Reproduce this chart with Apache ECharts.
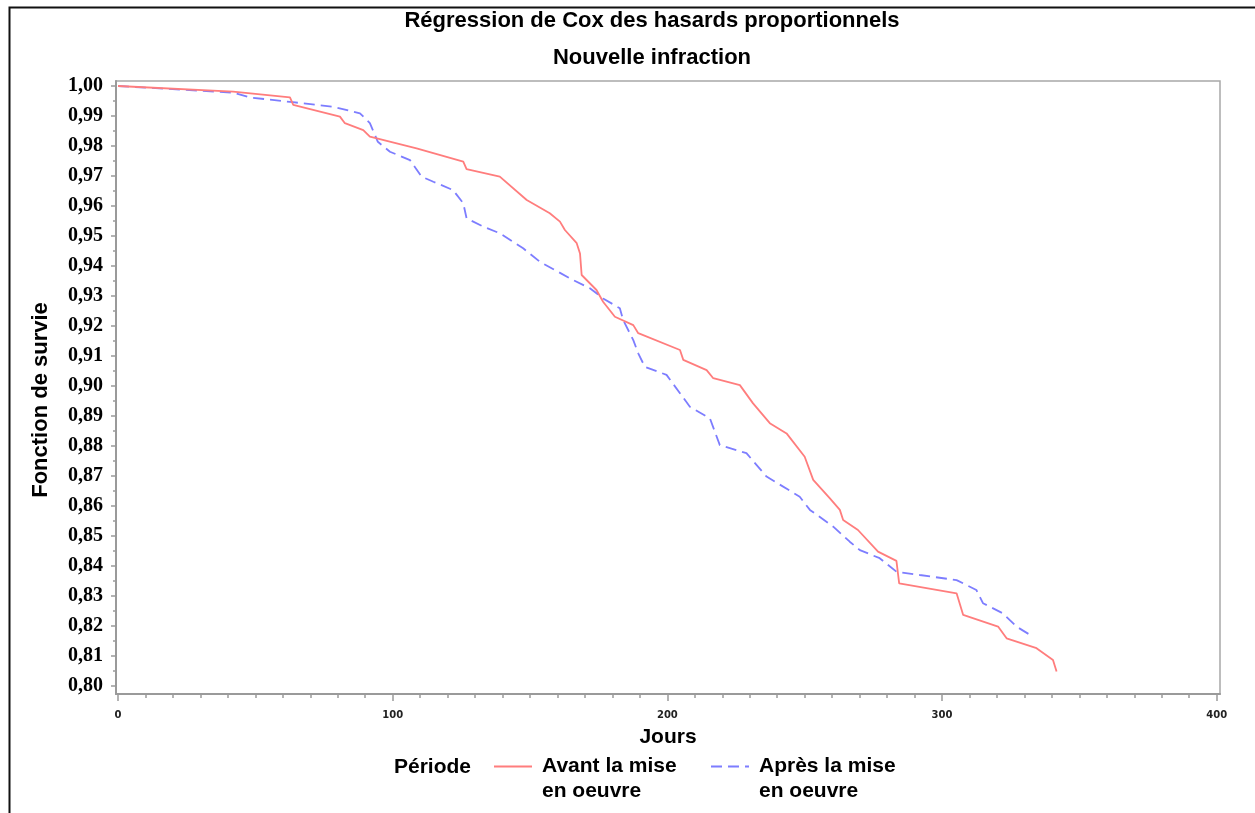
<!DOCTYPE html>
<html>
<head>
<meta charset="utf-8">
<script src="https://cdn.jsdelivr.net/npm/echarts@6/dist/echarts.min.js"></script>
<style>
html,body{margin:0;padding:0;background:#fff;}
#c{width:1255px;height:813px;}
</style>
</head>
<body>
<div id="c"></div>
<script>
// ---- Data ----
const avantJours  = [0, 41.9, 62.6, 63.8, 80.8, 82.6, 89.3, 91.7, 108.7, 125.7, 126.9, 139.0, 148.8, 157.2, 160.9, 162.7, 167.0, 168.2, 168.8, 174.2, 176.6, 180.9, 187.6, 189.4, 204.6, 205.8, 214.3, 216.7, 226.4, 231.2, 237.3, 243.4, 250.0, 253.1, 259.1, 262.8, 264.0, 269.4, 276.7, 283.4, 284.4, 305.3, 307.7, 320.4, 323.5, 334.4, 340.4, 341.7];
const avantSurvie = [1.000, 0.9981, 0.9962, 0.9937, 0.9898, 0.9876, 0.9853, 0.9831, 0.9792, 0.9748, 0.9723, 0.9698, 0.9620, 0.9576, 0.9548, 0.9520, 0.9476, 0.9442, 0.9370, 0.9320, 0.9281, 0.9231, 0.9203, 0.9176, 0.9120, 0.9087, 0.9053, 0.9026, 0.9003, 0.8942, 0.8876, 0.8842, 0.8764, 0.8687, 0.8626, 0.8587, 0.8553, 0.8520, 0.8448, 0.8417, 0.8342, 0.8309, 0.8237, 0.8198, 0.8159, 0.8126, 0.8087, 0.8048];
const apresJours  = [0, 41.9, 48.0, 63.7, 78.3, 88.1, 91.7, 94.6, 99.0, 106.3, 110.5, 114.8, 122.0, 125.7, 126.9, 133.0, 139.0, 147.5, 153.6, 165.7, 171.8, 176.6, 182.7, 183.9, 187.6, 189.4, 191.8, 199.7, 208.2, 215.5, 219.1, 228.8, 236.1, 248.2, 251.9, 260.4, 266.4, 270.1, 277.3, 283.4, 291.9, 305.3, 312.5, 314.9, 322.2, 327.1, 333.2];
const apresSurvie = [1.000, 0.9978, 0.9962, 0.9946, 0.9931, 0.9909, 0.9876, 0.9814, 0.9781, 0.9753, 0.9698, 0.9681, 0.9653, 0.9609, 0.9559, 0.9531, 0.9509, 0.9459, 0.9414, 0.9353, 0.9326, 0.9292, 0.9259, 0.9220, 0.9153, 0.9109, 0.9064, 0.9037, 0.8931, 0.8892, 0.8803, 0.8776, 0.8698, 0.8631, 0.8587, 0.8531, 0.8481, 0.8453, 0.8426, 0.8381, 0.8370, 0.8353, 0.8320, 0.8276, 0.8242, 0.8198, 0.8164];

const seriesNames = ['Avant la mise en oeuvre', 'Après la mise en oeuvre'];
const yTicks = [0.80, 0.81, 0.82, 0.83, 0.84, 0.85, 0.86, 0.87, 0.88, 0.89, 0.90, 0.91, 0.92, 0.93, 0.94, 0.95, 0.96, 0.97, 0.98, 0.99, 1.00];
const xTicks = [0, 100, 200, 300, 400];

// minor tick positions derived from the tick arrays
const yMinor = yTicks.slice(0, -1).map((v, i) => +((v + yTicks[i + 1]) / 2).toFixed(4));
const xMinor = [];
for (let i = 0; i < xTicks.length - 1; i++) {
  for (let k = 1; k < 10; k++) xMinor.push(xTicks[i] + (xTicks[i + 1] - xTicks[i]) * k / 10);
}

const X_MIN = -0.73, X_MAX = 401.2, Y_MIN = 0.79733, Y_MAX = 1.00167;
const axisGrey = '#9a9a9a';
const SANS = 'Liberation Sans';
const boldText = {fontFamily: SANS, fontWeight: 'bold', fontSize: 21, color: '#000'};
const titleText = {fontFamily: SANS, fontWeight: 'bold', fontSize: 22, color: '#000'};

const chart = echarts.init(document.getElementById('c'), null, {renderer: 'canvas'});

const legendBase = {
  orient: 'horizontal', padding: 0, itemWidth: 38, itemHeight: 14, selectedMode: false,
  itemStyle: {opacity: 0},
  // leading blank line so that the first text line sits level with the line sample
  formatter: n => '\u00a0\n' + n.replace(' en oeuvre', '\nen oeuvre'),
  textStyle: Object.assign({}, boldText, {lineHeight: 25, padding: [0, 0, 0, 5]})
};

chart.setOption({
  animation: false,
  backgroundColor: '#fff',
  title: {
    text: 'Régression de Cox des hasards proportionnels',
    subtext: 'Nouvelle infraction',
    left: 652, top: 10, textAlign: 'center', padding: 0, itemGap: 15,
    textStyle: titleText, subtextStyle: titleText
  },
  grid: {left: 116, right: 35, top: 81, bottom: 119, show: true, borderColor: '#a8a8a8', borderWidth: 1.5, backgroundColor: 'transparent'},
  xAxis: [{
    type: 'value', min: X_MIN, max: X_MAX, position: 'bottom',
    axisLine: {show: true, onZero: false, lineStyle: {color: axisGrey, width: 2}},
    axisTick: {show: true, customValues: xTicks, length: 7, lineStyle: {color: axisGrey, width: 1.5}},
    axisLabel: {customValues: xTicks, margin: 16, formatter: v => String(Math.round(v)), fontFamily: 'DejaVu Sans', fontWeight: 'bold', fontSize: 10, color: '#222'},
    splitLine: {show: false},
    name: 'Jours', nameLocation: 'middle', nameGap: 33, nameTextStyle: boldText
  }, {
    type: 'value', min: X_MIN, max: X_MAX, position: 'bottom',
    axisLine: {show: false, onZero: false},
    axisTick: {show: true, customValues: xMinor, length: 4, lineStyle: {color: axisGrey, width: 1.5}},
    axisLabel: {show: false}, splitLine: {show: false}
  }],
  yAxis: [{
    type: 'value', min: Y_MIN, max: Y_MAX, position: 'left',
    axisLine: {show: true, onZero: false, lineStyle: {color: axisGrey, width: 2}},
    axisTick: {show: true, customValues: yTicks, length: 5, lineStyle: {color: axisGrey, width: 1.5}},
    axisLabel: {customValues: yTicks, margin: 13, formatter: v => v.toFixed(2).replace('.', ','), fontFamily: 'Liberation Serif', fontWeight: 'bold', fontSize: 20, color: '#000'},
    splitLine: {show: false}
  }, {
    type: 'value', min: Y_MIN, max: Y_MAX, position: 'left',
    axisLine: {show: false, onZero: false},
    axisTick: {show: true, customValues: yMinor, length: 3, lineStyle: {color: axisGrey, width: 1.5}},
    axisLabel: {show: false}, splitLine: {show: false}
  }],
  legend: [
    Object.assign({}, legendBase, {data: [seriesNames[0]], left: 493, top: 729}),
    Object.assign({}, legendBase, {data: [seriesNames[1]], left: 710, top: 729})
  ],
  graphic: [
    {type: 'polyline', shape: {points: [[9.5, 813], [9.5, 7.5], [1255, 7.5]]}, style: {stroke: '#111', lineWidth: 2, fill: null}, silent: true},
    {type: 'text', x: 394, y: 767, style: {text: 'Période', fontFamily: SANS, fontWeight: 'bold', fontSize: 21, fill: '#000', align: 'left', verticalAlign: 'middle'}, silent: true},
    {type: 'text', x: 41, y: 400, rotation: Math.PI / 2, style: {text: 'Fonction de survie', fontFamily: SANS, fontWeight: 'bold', fontSize: 22, fill: '#000', align: 'center', verticalAlign: 'middle'}, silent: true}
  ],
  series: [{
    name: seriesNames[0], type: 'line', xAxisIndex: 0, yAxisIndex: 0,
    data: avantJours.map((d, i) => [d, avantSurvie[i]]),
    symbol: 'none', smooth: false,
    lineStyle: {color: '#ff7d7d', width: 1.8},
    itemStyle: {color: '#ff7d7d'}, z: 3
  }, {
    name: seriesNames[1], type: 'line', xAxisIndex: 0, yAxisIndex: 0,
    data: apresJours.map((d, i) => [d, apresSurvie[i]]),
    symbol: 'none', smooth: false,
    lineStyle: {color: '#7d7dff', width: 1.8, type: [11, 6]},
    itemStyle: {color: '#7d7dff'}, z: 2
  }]
});
</script>
</body>
</html>
